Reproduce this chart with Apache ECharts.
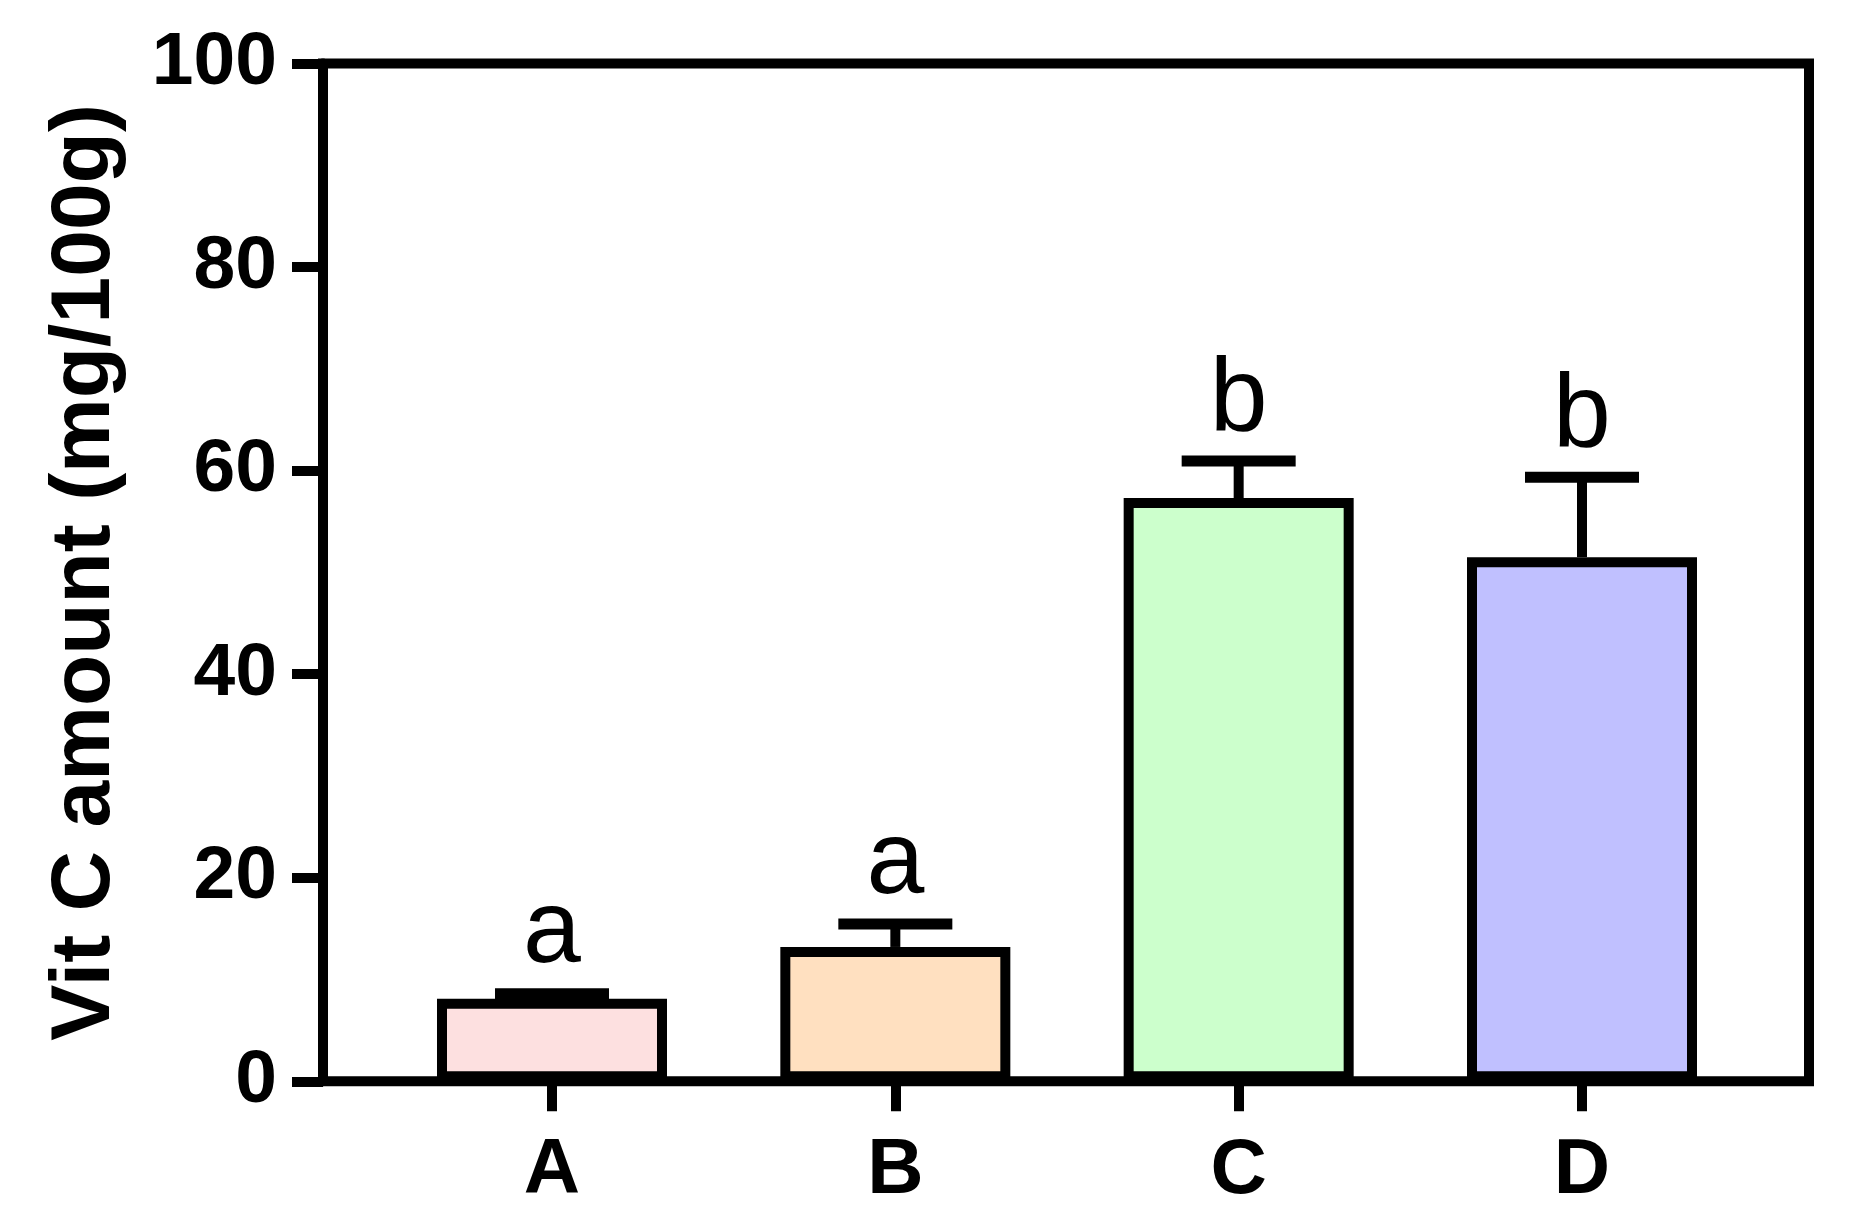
<!DOCTYPE html>
<html>
<head>
<meta charset="utf-8">
<script src="https://cdn.jsdelivr.net/npm/echarts@6/dist/echarts.min.js"></script>
<style>
  html, body { margin: 0; padding: 0; background: #fff; }
  #chart { width: 1849px; height: 1231px; }
</style>
</head>
<body>
<div id="chart"></div>
<script>
var categories = ['A', 'B', 'C', 'D'];
var means = [8.1, 13.2, 57.3, 51.5];
var errors = [0.5, 2.25, 3.65, 7.85];
var letters = ['a', 'a', 'b', 'b'];
var colors = ['#FDE0E0', '#FFE0C0', '#CCFFCC', '#C0C0FF'];
var yTicks = [0, 20, 40, 60, 80, 100];

var FONT = 'Arial, "Liberation Sans", sans-serif';

var chart = echarts.init(document.getElementById('chart'), null, { renderer: 'canvas' });

var barData = means.map(function (m, i) {
  return { value: m, itemStyle: { color: colors[i] } };
});
var errData = means.map(function (m, i) {
  return [i, m + errors[i], m];
});

function renderErr(params, api) {
  var i = api.value(0);
  var top = api.coord([i, api.value(1)]);
  var base = api.coord([i, api.value(2)]);
  var half = 57;
  return {
    type: 'group',
    children: [
      { type: 'line', shape: { x1: top[0], y1: base[1], x2: top[0], y2: top[1] },
        style: { stroke: '#000', lineWidth: 10 } },
      { type: 'line', shape: { x1: top[0] - half, y1: top[1], x2: top[0] + half, y2: top[1] },
        style: { stroke: '#000', lineWidth: 11, lineCap: 'butt' } },
      { type: 'text', x: top[0], y: top[1] - 8,
        style: { text: letters[i], fill: '#000', font: 'normal 104px ' + FONT,
                 textAlign: 'center', textVerticalAlign: 'bottom' } }
    ]
  };
}

var option = {
  backgroundColor: '#ffffff',
  animation: false,
  grid: [
    { left: 323, right: 40, top: 63.5, bottom: 149.7, show: true,
      borderColor: '#000', borderWidth: 10, backgroundColor: 'transparent' },
    { left: 380.33, right: 95.33, top: 63.5, bottom: 149.7 }
  ],
  xAxis: [
    { type: 'value', gridIndex: 0, min: 0, max: 1, show: false },
    { type: 'category', gridIndex: 1, data: categories, boundaryGap: true,
      axisLine: { show: false },
      axisTick: { show: true, alignWithLabel: true, length: 30, lineStyle: { color: '#000', width: 10 } },
      axisLabel: { margin: 51, color: '#000', fontSize: 78, fontWeight: 'bold', fontFamily: FONT },
      splitLine: { show: false } }
  ],
  yAxis: [
    { type: 'value', gridIndex: 0, min: 0, max: 100, interval: 20,
      name: 'Vit C amount (mg/100g)', nameLocation: 'middle', nameGap: 195,
      nameTextStyle: { color: '#000', fontSize: 84, fontWeight: 'bold', fontFamily: FONT },
      axisLine: { show: true, lineStyle: { color: '#000', width: 10 } },
      axisTick: { show: true, length: 31, lineStyle: { color: '#000', width: 10 } },
      axisLabel: { margin: 46, color: '#000', fontSize: 75, fontWeight: 'bold', fontFamily: FONT,
                   formatter: function (v) { return yTicks.indexOf(v) >= 0 ? String(v) : ''; } },
      splitLine: { show: false } },
    { type: 'value', gridIndex: 1, min: 0, max: 100, show: false }
  ],
  series: [
    { type: 'bar', xAxisIndex: 1, yAxisIndex: 1, data: barData, barWidth: 230,
      itemStyle: { borderColor: '#000', borderWidth: 10 }, z: 2 },
    { type: 'custom', xAxisIndex: 1, yAxisIndex: 1, data: errData,
      renderItem: renderErr, z: 3 }
  ]
};
chart.setOption(option);
</script>
</body>
</html>
